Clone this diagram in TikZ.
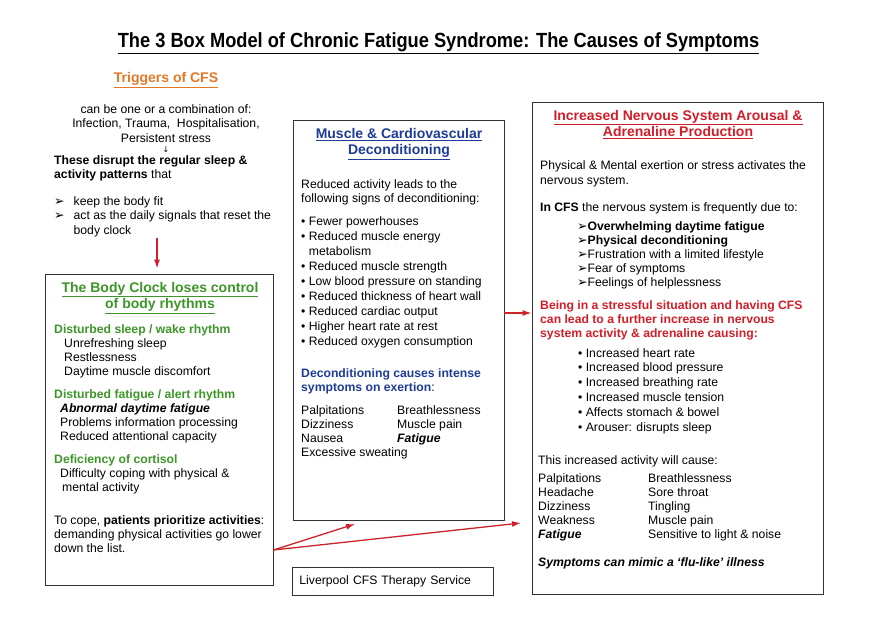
\documentclass[tikz,border=0pt]{standalone}
\usepackage{fontspec}
\setmainfont{Liberation Sans}
\newfontfamily\dejavu{DejaVu Sans}
\newfontfamily\narrowfont[FakeStretch=0.89]{Liberation Sans}
\usetikzlibrary{arrows.meta}

\definecolor{trigorange}{RGB}{228,120,40}
\definecolor{clockgreen}{RGB}{60,150,40}
\definecolor{musclblue}{RGB}{30,60,150}
\definecolor{nervered}{RGB}{210,30,40}
\definecolor{arrowred}{RGB}{205,35,40}

\newcommand\bodysize{\fontsize{12.2}{14.5}\selectfont}
\newcommand\headsize{\fontsize{14}{16.5}\selectfont}
\newcommand\arrowhd{{\dejavu\fontsize{12.5}{14}\selectfont ➢}}

\begin{document}
\begin{tikzpicture}[x=1pt, y=-1pt, % pixel-like units, y pointing down
    box/.style={draw=black!80, line width=0.9pt},
    txt/.style={anchor=north west, align=left, inner sep=0pt, font=\bodysize},
    ctxt/.style={anchor=north, align=center, inner sep=0pt, font=\bodysize},
    boxtitle/.style={anchor=north, align=center, inner sep=0pt, font=\headsize\bfseries},
    redarrow/.style={draw=arrowred, line width=1.3pt, -{Latex[length=9pt, width=6pt]}}]
            \useasboundingbox (0,0) rectangle (875,620);

            % 1. Title
            \node[inner sep=0pt, anchor=north, font=\narrowfont\fontsize{20.5}{24}\selectfont\bfseries] (title) at (438.5,32)
                {\underline{The 3 Box Model of Chronic Fatigue Syndrome: The Causes of Symptoms}};

            % 2. Triggers (no box)
            \node[inner sep=0pt, anchor=north, font=\headsize\bfseries, text=trigorange] (trigtitle) at (166,72) {\underline{Triggers of CFS}};
            \node[ctxt] (combo) at (166,104) {can be one or a combination of:\\ Infection, Trauma,\ \ Hospitalisation,\\ Persistent stress};
            \node[inner sep=0pt, font=\dejavu\fontsize{8}{9}\selectfont] (trigdown) at (166,149.5) {↓};
            \node[txt] (disrupt) at (54,155) {\textbf{These disrupt the regular sleep \&}\\ \textbf{activity patterns} that};
            \node[txt] (signals) at (54,195) {\begin{tabular}{@{}l@{\hspace{9pt}}l@{}}
                \arrowhd & keep the body fit\\
                \arrowhd & act as the daily signals that reset the\\
                         & body clock
                \end{tabular}};

            % 3. The three boxes
            \node[box, minimum width=228pt, minimum height=311pt] (clock) at (159,429.5) {};
            \node[box, minimum width=211pt, minimum height=400pt] (muscle) at (398.5,320) {};
            \node[box, minimum width=291pt, minimum height=492pt] (nerve) at (677.5,348) {};

            % 4. Body clock box (green)
            \node[boxtitle, text=clockgreen] (clocktitle) at (160,282) {\underline{The Body Clock loses control}\\ \underline{of body rhythms}};
            \node[txt, text=clockgreen, font=\bodysize\bfseries] (sleephd) at (54,324) {Disturbed sleep / wake rhythm};
            \node[txt, font=\fontsize{12.2}{14}\selectfont] (sleeplist) at (64,338) {Unrefreshing sleep\\ Restlessness\\ Daytime muscle discomfort};
            \node[txt, text=clockgreen, font=\bodysize\bfseries] (fatiguehd) at (54,389) {Disturbed fatigue / alert rhythm};
            \node[txt, font=\fontsize{12.2}{14}\selectfont] (fatiguelist) at (60,403) {\textbf{\textit{Abnormal daytime fatigue}}\\ Problems information processing\\ Reduced attentional capacity};
            \node[txt, text=clockgreen, font=\bodysize\bfseries] (cortisolhd) at (54,454) {Deficiency of cortisol};
            \node[txt, font=\fontsize{12.2}{14}\selectfont] (cortisollist) at (60,468) {Difficulty coping with physical \&\\ \hspace{2pt}mental activity};
            \node[txt, font=\fontsize{12.2}{14}\selectfont] (cope) at (54,515) {To cope, \textbf{patients prioritize activities}:\\ demanding physical activities go lower\\ down the list.};

            % 5. Deconditioning box (blue)
            \node[boxtitle, text=musclblue] (muscletitle) at (399,128) {\underline{Muscle \& Cardiovascular}\\ \underline{Deconditioning}};
            \node[txt] (reduced) at (301,179) {Reduced activity leads to the\\ following signs of deconditioning:};
            \node[txt, font=\fontsize{12.2}{15}\selectfont] (signs) at (301,216) {• Fewer powerhouses\\ • Reduced muscle energy\\ \hphantom{• }metabolism\\ • Reduced muscle strength\\ • Low blood pressure on standing\\ • Reduced thickness of heart wall\\ • Reduced cardiac output\\ • Higher heart rate at rest\\ • Reduced oxygen consumption};
            \node[txt, text=musclblue, font=\bodysize\bfseries] (exertion) at (301,368) {Deconditioning causes intense\\ symptoms on exertion\textcolor{black}{\mdseries :}};
            \node[txt, font=\fontsize{12.2}{14}\selectfont] (exleft) at (301,405) {Palpitations\\ Dizziness\\ Nausea\\ Excessive sweating};
            \node[txt, font=\fontsize{12.2}{14}\selectfont] (exright) at (397,405) {Breathlessness\\ Muscle pain\\ \textbf{\textit{Fatigue}}};

            % 6. Nervous system box (red)
            \node[boxtitle, text=nervered] (nervetitle) at (678,110) {\underline{Increased Nervous System Arousal \&}\\ \underline{Adrenaline Production}};
            \node[txt, font=\fontsize{12.2}{15}\selectfont] (exert) at (540,160) {Physical \& Mental exertion or stress activates the\\ nervous system.};
            \node[txt] (incfs) at (540,202) {\textbf{In CFS} the nervous system is frequently due to:};
            \node[txt, font=\fontsize{12.2}{14}\selectfont] (duelist) at (577,221) {\arrowhd\textbf{Overwhelming daytime fatigue}\\ \arrowhd\textbf{Physical deconditioning}\\ \arrowhd Frustration with a limited lifestyle\\ \arrowhd Fear of symptoms\\ \arrowhd Feelings of helplessness};
            \node[txt, text=nervered, font=\fontsize{12.2}{14}\selectfont\bfseries] (stressful) at (540,300) {Being in a stressful situation and having CFS\\ can lead to a further increase in nervous\\ system activity \& adrenaline causing:};
            \node[txt, font=\fontsize{12.2}{14.8}\selectfont] (effects) at (578,348) {• Increased heart rate\\ • Increased blood pressure\\ • Increased breathing rate\\ • Increased muscle tension\\ • Affects stomach \& bowel\\ • Arouser: disrupts sleep};
            \node[txt] (willcause) at (538,455) {This increased activity will cause:};
            \node[txt, font=\fontsize{12.2}{14}\selectfont] (causeleft) at (538,473) {Palpitations\\ Headache\\ Dizziness\\ Weakness\\ \textbf{\textit{Fatigue}}};
            \node[txt, font=\fontsize{12.2}{14}\selectfont] (causeright) at (648,473) {Breathlessness\\ Sore throat\\ Tingling\\ Muscle pain\\ Sensitive to light \& noise};
            \node[txt, font=\bodysize\bfseries\itshape] (mimic) at (538,557) {Symptoms can mimic a ‘flu-like’ illness};

            % 7. Service label
            \node[box, anchor=north west, minimum width=201pt, minimum height=28pt, text width=187pt, inner xsep=7pt, align=left, font=\bodysize] (service) at (292,567) {Liverpool CFS Therapy Service};

            % 8. Red arrows
            \coordinate (trigend) at (157,238);
            \coordinate (linky) at (0,313);
            \coordinate (copey) at (0,550);
            \coordinate (musclein) at (355,524);
            \coordinate (nervein) at (521,523);
            \draw[redarrow, shorten >=5pt] (trigend) -- (trigend |- clock.north);
            \draw[redarrow] (muscle.east |- linky) -- (nerve.west |- linky);
            \draw[redarrow] (clock.east |- copey) -- (musclein);
            \draw[redarrow] (clock.east |- copey) -- (nervein);
        \end{tikzpicture}
\end{document}
